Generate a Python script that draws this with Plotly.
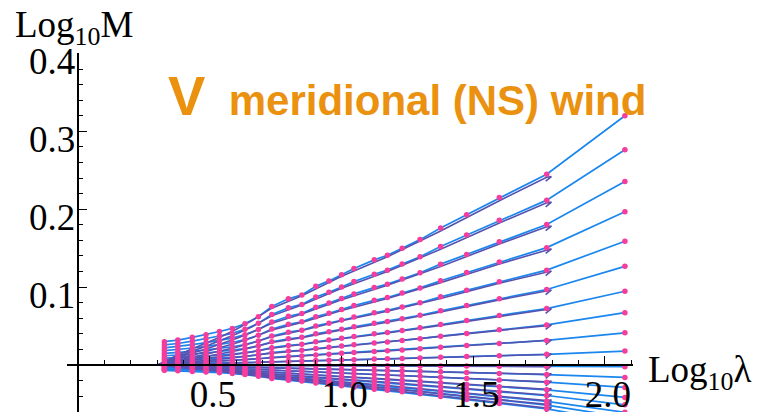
import plotly.graph_objects as go

# ---- sampled points (blue lines, pink dots) ----
X_PTS = [0.327, 0.378, 0.433, 0.485, 0.536, 0.585, 0.633, 0.684, 0.735, 0.798, 0.849, 0.902,
         0.952, 1.000, 1.047, 1.124, 1.174, 1.230, 1.298, 1.376, 1.475, 1.599, 1.779, 2.076]

B_Q20 = [0.030, 0.032, 0.0355, 0.039, 0.043, 0.047, 0.053, 0.062, 0.075, 0.085, 0.090, 0.101,
         0.108, 0.116, 0.124, 0.135, 0.141, 0.150, 0.161, 0.176, 0.193, 0.215, 0.245, 0.320]
B_Q19 = [0.0259, 0.0276, 0.0307, 0.0337, 0.0372, 0.0406, 0.0458, 0.0536, 0.0648, 0.0734, 0.0778, 0.0873,
         0.0933, 0.1002, 0.1071, 0.1166, 0.1218, 0.1296, 0.1391, 0.1521, 0.1668, 0.1858, 0.2117, 0.2765]
B_Q18 = [0.0221, 0.0236, 0.0261, 0.0287, 0.0316, 0.0346, 0.0390, 0.0456, 0.0552, 0.0626, 0.0662, 0.0743,
         0.0795, 0.0854, 0.0913, 0.0994, 0.1038, 0.1104, 0.1185, 0.1295, 0.1420, 0.1582, 0.1803, 0.2355]
B_Q17 = [0.0185, 0.0197, 0.0218, 0.0240, 0.0264, 0.0289, 0.0326, 0.0381, 0.0461, 0.0523, 0.0554, 0.0621,
         0.0664, 0.0713, 0.0763, 0.0830, 0.0867, 0.0923, 0.0990, 0.1082, 0.1187, 0.1322, 0.1507, 0.1968]
B_Q16 = [0.0149, 0.0159, 0.0176, 0.0194, 0.0214, 0.0234, 0.0263, 0.0308, 0.0373, 0.0422, 0.0447, 0.0502,
         0.0537, 0.0577, 0.0616, 0.0671, 0.0701, 0.0746, 0.0800, 0.0875, 0.0959, 0.1069, 0.1218, 0.1590]
B_Q15 = [0.0119, 0.0127, 0.0141, 0.0154, 0.0170, 0.0186, 0.0210, 0.0246, 0.0297, 0.0337, 0.0356, 0.0400,
         0.0428, 0.0459, 0.0491, 0.0535, 0.0558, 0.0594, 0.0638, 0.0697, 0.0764, 0.0851, 0.0970, 0.1267]
B_Q14 = [0.0089, 0.0095, 0.0105, 0.0115, 0.0127, 0.0139, 0.0157, 0.0184, 0.0222, 0.0252, 0.0266, 0.0299,
         0.0320, 0.0343, 0.0367, 0.0400, 0.0417, 0.0444, 0.0477, 0.0521, 0.0571, 0.0636, 0.0725, 0.0947]
B_Q13 = [0.0063, 0.0067, 0.0075, 0.0082, 0.0090, 0.0099, 0.0111, 0.0130, 0.0158, 0.0179, 0.0189, 0.0212,
         0.0227, 0.0244, 0.0260, 0.0284, 0.0296, 0.0315, 0.0338, 0.0370, 0.0405, 0.0452, 0.0515, 0.0672]
B_Q12 = [0.0039, 0.0041, 0.0046, 0.0050, 0.0055, 0.0061, 0.0068, 0.0080, 0.0097, 0.0110, 0.0116, 0.0130,
         0.0139, 0.0150, 0.0160, 0.0174, 0.0182, 0.0194, 0.0208, 0.0227, 0.0249, 0.0277, 0.0316, 0.0413]
B_Q11 = [0.0017, 0.0018, 0.0020, 0.0022, 0.0024, 0.0026, 0.0030, 0.0035, 0.0042, 0.0048, 0.0050, 0.0057,
         0.0060, 0.0065, 0.0069, 0.0076, 0.0079, 0.0084, 0.0090, 0.0099, 0.0108, 0.0120, 0.0137, 0.0179]
B_Q10 = [0.0, 0.0, -0.0001, -0.0001, -0.0002, -0.0002, -0.0003, -0.0003, -0.0004, -0.0005, -0.0005, -0.0006,
         -0.0007, -0.0008, -0.0008, -0.0009, -0.0010, -0.0011, -0.0012, -0.0013, -0.0014, -0.0016, -0.0018, -0.0022]
B_D1 = [-0.0015, -0.0016, -0.0018, -0.0020, -0.0022, -0.0024, -0.0027, -0.0031, -0.0038, -0.0043, -0.0045, -0.0051,
        -0.0054, -0.0058, -0.0062, -0.0068, -0.0071, -0.0075, -0.0081, -0.0088, -0.0097, -0.0108, -0.0123, -0.0160]
B_D2 = [-0.0027, -0.0029, -0.0032, -0.0035, -0.0039, -0.0042, -0.0048, -0.0056, -0.0068, -0.0077, -0.0081, -0.0091,
        -0.0097, -0.0104, -0.0112, -0.0122, -0.0127, -0.0135, -0.0145, -0.0158, -0.0174, -0.0194, -0.0221, -0.0288]
B_D3 = [-0.0039, -0.0042, -0.0046, -0.0051, -0.0056, -0.0061, -0.0069, -0.0081, -0.0098, -0.0111, -0.0117, -0.0131,
        -0.0140, -0.0151, -0.0161, -0.0176, -0.0183, -0.0195, -0.0209, -0.0229, -0.0251, -0.0280, -0.0319, -0.0416]
B_D4 = [-0.0048, -0.0051, -0.0057, -0.0062, -0.0069, -0.0075, -0.0085, -0.0099, -0.0120, -0.0136, -0.0144, -0.0162,
        -0.0173, -0.0186, -0.0198, -0.0216, -0.0226, -0.0240, -0.0258, -0.0282, -0.0309, -0.0344, -0.0392, -0.0512]
B_D5 = [-0.0057, -0.0061, -0.0067, -0.0074, -0.0082, -0.0089, -0.0101, -0.0118, -0.0143, -0.0162, -0.0171, -0.0192,
        -0.0205, -0.0220, -0.0236, -0.0257, -0.0268, -0.0285, -0.0306, -0.0334, -0.0367, -0.0409, -0.0466, -0.0608]
B_D6 = [-0.0063, -0.0067, -0.0075, -0.0082, -0.0090, -0.0099, -0.0111, -0.0130, -0.0158, -0.0179, -0.0189, -0.0212,
        -0.0227, -0.0244, -0.0260, -0.0284, -0.0296, -0.0315, -0.0338, -0.0370, -0.0405, -0.0452, -0.0515, -0.0672]
B_D7 = [-0.0069, -0.0074, -0.0082, -0.0090, -0.0099, -0.0108, -0.0122, -0.0143, -0.0173, -0.0196, -0.0207, -0.0232,
        -0.0248, -0.0267, -0.0285, -0.0311, -0.0324, -0.0345, -0.0370, -0.0405, -0.0444, -0.0495, -0.0564, -0.0736]

# ---- dense curves (purple), ending with a small hook ----
P_X = [0.301, 0.36, 0.42, 0.48, 0.54, 0.60, 0.66, 0.735, 0.849, 1.0, 1.174, 1.376, 1.599, 1.779, 1.797, 1.775]

P_Q20 = [0, 0.010, 0.019, 0.027, 0.036, 0.046, 0.057, 0.073, 0.089, 0.114, 0.139, 0.172, 0.211, 0.241, 0.242, 0.236]
P_Q19 = [0, 0.0086, 0.0164, 0.0233, 0.0311, 0.0397, 0.0492, 0.0631, 0.0769, 0.0985, 0.1201, 0.1486, 0.1823, 0.2082, 0.2092, 0.2032]
P_Q18 = [0, 0.0074, 0.0140, 0.0199, 0.0265, 0.0339, 0.0420, 0.0537, 0.0655, 0.0839, 0.1023, 0.1266, 0.1553, 0.1774, 0.1784, 0.1724]
P_Q17 = [0, 0.0062, 0.0117, 0.0166, 0.0221, 0.0283, 0.0351, 0.0449, 0.0547, 0.0701, 0.0855, 0.1058, 0.1298, 0.1482, 0.1492, 0.1432]
P_Q16 = [0, 0.0050, 0.0094, 0.0134, 0.0179, 0.0229, 0.0283, 0.0363, 0.0442, 0.0567, 0.0691, 0.0855, 0.1049, 0.1198, 0.1208, 0.1148]
P_Q15 = [0, 0.0040, 0.0075, 0.0107, 0.0143, 0.0182, 0.0226, 0.0289, 0.0352, 0.0451, 0.0550, 0.0681, 0.0836, 0.0954, 0.0964, 0.0904]
P_Q14 = [0, 0.0030, 0.0056, 0.0080, 0.0107, 0.0136, 0.0169, 0.0216, 0.0263, 0.0337, 0.0411, 0.0509, 0.0625, 0.0713, 0.0723, 0.0663]
P_Q13 = [0, 0.0021, 0.0040, 0.0057, 0.0076, 0.0097, 0.0120, 0.0153, 0.0187, 0.0239, 0.0292, 0.0361, 0.0443, 0.0506, 0.0516, 0.0456]
P_Q12 = [0, 0.0013, 0.0025, 0.0035, 0.0046, 0.0059, 0.0074, 0.0094, 0.0115, 0.0147, 0.0179, 0.0222, 0.0272, 0.0311, 0.0321, 0.0261]
P_Q11 = [0, 0.0006, 0.0011, 0.0015, 0.0020, 0.0026, 0.0032, 0.0041, 0.0050, 0.0064, 0.0078, 0.0096, 0.0118, 0.0135, 0.0145, 0.0085]
P_Q10 = [0, -0.0001, -0.0002, -0.0003, -0.0004, -0.0005, -0.0006, -0.0007, -0.0009, -0.0011, -0.0013, -0.0016, -0.0019, -0.0022, -0.0012, -0.0072]
P_D1 = [0, -0.0005, -0.0010, -0.0014, -0.0018, -0.0023, -0.0029, -0.0037, -0.0045, -0.0057, -0.0070, -0.0086, -0.0106, -0.0121, -0.0111, -0.0171]
P_D2 = [0, -0.0009, -0.0017, -0.0024, -0.0032, -0.0041, -0.0051, -0.0066, -0.0080, -0.0103, -0.0125, -0.0155, -0.0190, -0.0217, -0.0207, -0.0267]
P_D3 = [0, -0.0013, -0.0025, -0.0035, -0.0047, -0.0060, -0.0074, -0.0095, -0.0116, -0.0148, -0.0181, -0.0224, -0.0274, -0.0313, -0.0303, -0.0363]
P_D4 = [0, -0.0016, -0.0030, -0.0043, -0.0058, -0.0074, -0.0091, -0.0117, -0.0142, -0.0182, -0.0222, -0.0275, -0.0338, -0.0386, -0.0376, -0.0436]
P_D5 = [0, -0.0019, -0.0036, -0.0051, -0.0068, -0.0087, -0.0108, -0.0139, -0.0169, -0.0217, -0.0264, -0.0327, -0.0401, -0.0458, -0.0448, -0.0508]
P_D6 = [0, -0.0021, -0.0040, -0.0057, -0.0076, -0.0097, -0.0120, -0.0153, -0.0187, -0.0239, -0.0292, -0.0361, -0.0443, -0.0506, -0.0496, -0.0556]
P_D7 = [0, -0.0023, -0.0044, -0.0062, -0.0083, -0.0106, -0.0131, -0.0168, -0.0205, -0.0262, -0.0320, -0.0396, -0.0485, -0.0554, -0.0544, -0.0604]

X_TICKS = [0.5, 1.0, 1.5, 2.0]
X_TICK_TEXT = ["0.5", "1.0", "1.5", "2.0"]
Y_TICKS = [0.1, 0.2, 0.3, 0.4]
Y_TICK_TEXT = ["0.1", "0.2", "0.3", "0.4"]

BLUE = "#1A86EE"
PURPLE = "#5552B0"
PINK = "#F63C9C"
ORANGE = "#EA910F"

blue_series = [B_Q20, B_Q19, B_Q18, B_Q17, B_Q16, B_Q15, B_Q14, B_Q13, B_Q12, B_Q11, B_Q10,
               B_D1, B_D2, B_D3, B_D4, B_D5, B_D6, B_D7]
purple_series = [P_Q20, P_Q19, P_Q18, P_Q17, P_Q16, P_Q15, P_Q14, P_Q13, P_Q12, P_Q11, P_Q10,
                 P_D1, P_D2, P_D3, P_D4, P_D5, P_D6, P_D7]

fig = go.Figure()
for ys in blue_series:
    fig.add_trace(go.Scatter(x=X_PTS, y=ys, mode="lines", line=dict(color=BLUE, width=1.7),
                             hoverinfo="skip", showlegend=False))
for ys in purple_series:
    fig.add_trace(go.Scatter(x=P_X, y=ys, mode="lines", line=dict(color=PURPLE, width=1.6),
                             hoverinfo="skip", showlegend=False))
for ys in blue_series:
    fig.add_trace(go.Scatter(x=X_PTS, y=ys, mode="markers", marker=dict(color=PINK, size=5.5),
                             hoverinfo="skip", showlegend=False, cliponaxis=True))

W, H = 765, 412
# pixel geometry of the reference
x0_px, x_scale = 78.3, 263.3     # x=0 at pixel 78.3, px per unit
y0_px, y_scale = 365.0, 778.75   # y=0 at pixel 365, px per unit
xl_px, xr_px = 67.0, 633.0
yt_px, yb_px = 53.0, 412.0

x_range = [(xl_px - x0_px) / x_scale, (xr_px - x0_px) / x_scale]
y_range = [(y0_px - yb_px) / y_scale, (y0_px - yt_px) / y_scale]

serif = "Liberation Serif, Times New Roman, serif"

fig.update_layout(
    template="none",
    width=W, height=H,
    margin=dict(l=0, r=0, t=0, b=0, pad=0, autoexpand=False),
    paper_bgcolor="white", plot_bgcolor="white",
    xaxis=dict(
        domain=[xl_px / W, xr_px / W], range=x_range, automargin=False,
        anchor="free", position=(H - y0_px) / H,
        showgrid=False, zeroline=False, showline=True, linecolor="black", linewidth=1.5,
        tickmode="array", tickvals=X_TICKS, ticktext=X_TICK_TEXT,
        ticks="inside", ticklen=8, tickwidth=1.3, tickcolor="black",
        ticklabelshift=3, ticklabelstandoff=-3,
        minor=dict(dtick=0.1, tick0=0, ticks="inside", ticklen=4, tickwidth=1.1, tickcolor="black", showgrid=False),
        tickfont=dict(family=serif, size=37, color="black"),
    ),
    yaxis=dict(
        domain=[0, (H - yt_px) / H], range=y_range, automargin=False,
        anchor="free", position=x0_px / W,
        showgrid=False, zeroline=False, showline=True, linecolor="black", linewidth=1.5,
        tickmode="array", tickvals=Y_TICKS, ticktext=Y_TICK_TEXT,
        ticks="inside", ticklen=8, tickwidth=1.3, tickcolor="black",
        ticklabelshift=8, ticklabelstandoff=-5,
        minor=dict(dtick=0.02, tick0=0, ticks="inside", ticklen=4, tickwidth=1.1, tickcolor="black", showgrid=False),
        tickfont=dict(family=serif, size=37, color="black"),
    ),
)

fig.add_annotation(xref="paper", yref="paper", x=13 / W, y=1 - 28 / H, xanchor="left", yanchor="middle",
                   text="Log<sub>10</sub>M", showarrow=False,
                   font=dict(family=serif, size=37, color="black"))
fig.add_annotation(xref="paper", yref="paper", x=646 / W, y=1 - 372 / H, xanchor="left", yanchor="middle",
                   text="Log<sub>10</sub>λ", showarrow=False,
                   font=dict(family=serif, size=37, color="black"))
fig.add_annotation(xref="paper", yref="paper", x=166 / W, y=1 - 95 / H, xanchor="left", yanchor="middle",
                   text="<b><span style='font-size:56px'>V</span>&nbsp; meridional (NS) wind</b>",
                   showarrow=False,
                   font=dict(family="Liberation Sans, Arial, sans-serif", size=42, color=ORANGE))

fig.write_html("out.html")
